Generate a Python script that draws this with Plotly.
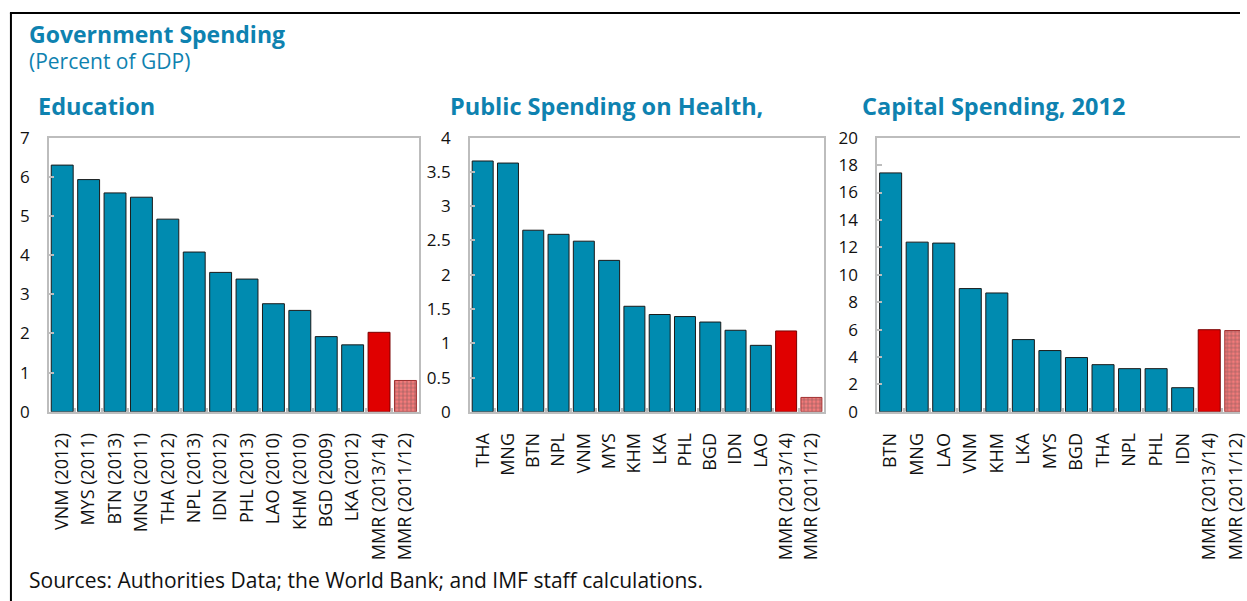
import plotly.graph_objects as go

W, H = 1247, 613
# the capture maps page y to picture y as 12.5 + 0.961 * y; positions below are given in
# reference-picture pixels and converted
VOFF, VSCALE = 12.5, 0.961

edu_cats = ["VNM (2012)", "MYS (2011)", "BTN (2013)", "MNG (2011)", "THA (2012)", "NPL (2013)",
            "IDN (2012)", "PHL (2013)", "LAO (2010)", "KHM (2010)", "BGD (2009)", "LKA (2012)",
            "MMR (2013/14)", "MMR (2011/12)"]
edu_vals = [6.30, 5.93, 5.59, 5.48, 4.92, 4.08, 3.56, 3.39, 2.76, 2.59, 1.92, 1.71, 2.03, 0.80]

hea_cats = ["THA", "MNG", "BTN", "NPL", "VNM", "MYS", "KHM", "LKA", "PHL", "BGD", "IDN", "LAO",
            "MMR (2013/14)", "MMR (2011/12)"]
hea_vals = [3.66, 3.63, 2.65, 2.59, 2.49, 2.21, 1.54, 1.42, 1.39, 1.31, 1.19, 0.97, 1.18, 0.21]

cap_cats = ["BTN", "MNG", "LAO", "VNM", "KHM", "LKA", "MYS", "BGD", "THA", "NPL", "PHL", "IDN",
            "MMR (2013/14)", "MMR (2011/12)"]
cap_vals = [17.43, 12.38, 12.31, 8.99, 8.67, 5.27, 4.47, 3.96, 3.44, 3.15, 3.15, 1.76, 5.99, 5.93]

panel_titles = ["Education", "Public Spending on Health,", "Capital Spending, 2012"]
y_ranges = [[0, 7], [0, 4], [0, 20]]
y_dticks = [1, 0.5, 2]

TEAL = "#008BB0"
RED = "#E00000"
HATCH_BG = "#F47A7A"
TITLE_C = "#0E82B0"
FRAME = "#BDBDBD"
FONT = "Open Sans"

def px_x(p):
    return p / W

def px_y(p):
    page = (p - VOFF) / VSCALE
    return min(1.0, max(0.0, 1 - page / H))

y_dom = [px_y(411.7), px_y(138)]
x_doms = [[px_x(49.3), px_x(421)], [px_x(472.7), px_x(828.7)], [px_x(882.3), 1.0]]
x_ranges = [[-0.5, 13.5], [-0.5, 13.5], [-0.5, -0.5 + (W - 882.3) / 26.7]]

fig = go.Figure()
data = [(edu_cats, edu_vals), (hea_cats, hea_vals), (cap_cats, cap_vals)]
for i, (cats, vals) in enumerate(data):
    n = len(cats)
    colors = [TEAL] * (n - 2) + [RED, HATCH_BG]
    shapes = [""] * (n - 1) + ["+"]
    lines = ["#1A1A1A"] * (n - 2) + ["#7A0000", "#A03030"]
    sfx = "" if i == 0 else str(i + 1)
    fig.add_trace(go.Bar(
        x=cats, y=vals, xaxis="x" + sfx, yaxis="y" + sfx,
        marker=dict(color=colors, line=dict(color=lines, width=1),
                    pattern=dict(shape=shapes, fgcolor=RED, size=4, solidity=0.35)),
        showlegend=False, hoverinfo="x+y",
    ))

layout = dict(
    width=W, height=H, autosize=False,
    margin=dict(l=0, r=0, t=0, b=0),
    paper_bgcolor="white", plot_bgcolor="white",
    bargap=0.17,
    font=dict(family=FONT, size=16, color="#111111"),
    showlegend=False,
)
for i in range(3):
    sfx = "" if i == 0 else str(i + 1)
    layout["xaxis" + sfx] = dict(
        domain=x_doms[i], anchor="y" + sfx, range=x_ranges[i], type="category",
        showline=True, linecolor=FRAME, linewidth=2, mirror=True,
        ticks="inside", tickson="boundaries", ticklen=4, tickcolor=FRAME, tickwidth=2,
        tickangle=-90, tickfont=dict(family=FONT, size=18, color="#111111"),
        ticklabelstandoff=12, showgrid=False, zeroline=False, fixedrange=True,
    )
    layout["yaxis" + sfx] = dict(
        domain=y_dom, anchor="x" + sfx, range=y_ranges[i], dtick=y_dticks[i], tick0=0,
        showline=True, linecolor=FRAME, linewidth=2, mirror=(i < 2),
        ticks="inside", ticklen=5, tickcolor=FRAME, tickwidth=2,
        tickfont=dict(family=FONT, size=17, color="#111111"),
        ticklabelstandoff=14, showgrid=False, zeroline=False, fixedrange=True,
    )

annotations = [
    dict(text="<b>Government Spending</b>", x=px_x(27), y=px_y(34), font=dict(size=23, color=TITLE_C)),
    dict(text="(Percent of GDP)", x=px_x(27), y=px_y(61), font=dict(size=21, color=TITLE_C)),
    dict(text="<b>" + panel_titles[0] + "</b>", x=px_x(36), y=px_y(106), font=dict(size=23.5, color=TITLE_C)),
    dict(text="<b>" + panel_titles[1] + "</b>", x=px_x(451), y=px_y(106), font=dict(size=23.5, color=TITLE_C)),
    dict(text="<b>" + panel_titles[2] + "</b>", x=px_x(865), y=px_y(106), font=dict(size=23.5, color=TITLE_C)),
    dict(text="Sources: Authorities Data; the World Bank; and IMF staff calculations.",
         x=px_x(27), y=px_y(580), font=dict(size=21, color="#111111")),
]
for a in annotations:
    a.update(xref="paper", yref="paper", xanchor="left", yanchor="middle", showarrow=False)
    a["font"]["family"] = FONT
layout["annotations"] = annotations

layout["shapes"] = [
    dict(type="line", xref="paper", yref="paper", x0=px_x(11), x1=px_x(11), y0=1 - 1 / H, y1=0,
         line=dict(color="black", width=2)),
    dict(type="line", xref="paper", yref="paper", x0=px_x(10), x1=1.0, y0=1 - 1 / H, y1=1 - 1 / H,
         line=dict(color="black", width=2)),
]

fig.update_layout(**layout)
fig.write_html(
    "out.html",
    config={"displayModeBar": False},
    post_script="document.body.style.margin='0';document.body.style.overflow='hidden';",
)
